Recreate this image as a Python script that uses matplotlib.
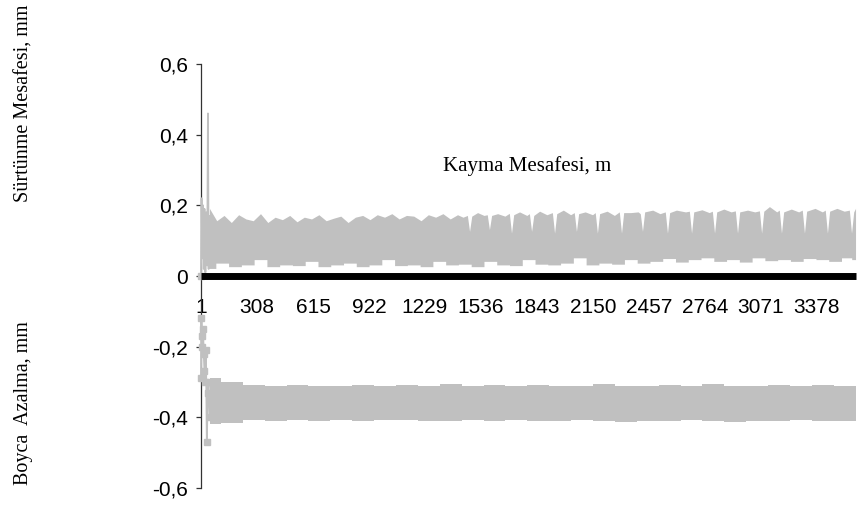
import numpy as np
import matplotlib
matplotlib.use('Agg')
import matplotlib.pyplot as plt

########### DATA

# x axis (category index), labels every 307 points
x_ticks = [1, 308, 615, 922, 1229, 1536, 1843, 2150, 2457, 2764, 3071, 3378]
x_last = 3592

y_ticks = [0.6, 0.4, 0.2, 0, -0.2, -0.4, -0.6]
y_tick_labels = ['0,6', '0,4', '0,2', '0', '-0,2', '-0,4', '-0,6']

# Sürtünme Mesafesi - first few points (start-up spike)
top_start_x = [1, 4, 8, 12, 16, 20, 25, 30, 35, 39, 43, 47, 52]
top_start_y = [0.0, 0.22, 0.05, 0.2, 0.02, 0.19, 0.01, 0.18, 0.03, 0.46, 0.02, 0.17, 0.03]

# upper edge of the dense signal, first part
top_upper_x_a = list(range(50, 1411, 40))
top_upper_y_a = [0.19, 0.155, 0.17, 0.15, 0.172, 0.16, 0.155, 0.175, 0.15, 0.165,
                 0.158, 0.17, 0.152, 0.165, 0.16, 0.172, 0.155, 0.162, 0.168, 0.15,
                 0.165, 0.17, 0.158, 0.172, 0.165, 0.175, 0.16, 0.17, 0.168, 0.155,
                 0.172, 0.165, 0.175, 0.16, 0.172]

# upper edge, second part (cycles with short dips)
top_upper_x_b = [1440, 1464, 1476, 1488, 1520, 1555, 1573, 1585, 1597, 1630, 1670, 1694, 1706, 1718,
                 1750, 1790, 1804, 1816, 1828, 1860, 1900, 1930, 1942, 1954, 1990, 2030, 2050, 2062,
                 2074, 2110, 2150, 2165, 2177, 2189, 2230, 2270, 2297, 2309, 2321, 2360, 2400, 2412,
                 2424, 2436, 2480, 2520, 2549, 2561, 2573, 2610, 2660, 2681, 2693, 2705, 2750, 2790,
                 2807, 2819, 2831, 2870, 2910, 2933, 2945, 2957, 3000, 3040, 3065, 3077, 3089, 3120,
                 3160, 3174, 3186, 3198, 3240, 3280, 3300, 3312, 3324, 3370, 3410, 3426, 3438, 3450,
                 3490, 3530, 3558, 3570, 3582, 3592]
top_upper_y_b = [0.165, 0.17, 0.125, 0.168, 0.178, 0.17, 0.172, 0.13, 0.17, 0.175, 0.168, 0.176, 0.12, 0.172,
                 0.18, 0.17, 0.175, 0.125, 0.17, 0.182, 0.172, 0.178, 0.12, 0.175, 0.185, 0.172, 0.178, 0.125,
                 0.175, 0.18, 0.172, 0.178, 0.12, 0.175, 0.182, 0.17, 0.18, 0.12, 0.178, 0.178, 0.18, 0.175,
                 0.125, 0.18, 0.185, 0.175, 0.18, 0.12, 0.178, 0.185, 0.18, 0.182, 0.12, 0.18, 0.186, 0.178,
                 0.182, 0.12, 0.18, 0.188, 0.18, 0.183, 0.12, 0.18, 0.185, 0.18, 0.183, 0.12, 0.182, 0.195,
                 0.18, 0.185, 0.12, 0.18, 0.188, 0.18, 0.185, 0.12, 0.182, 0.19, 0.18, 0.185, 0.12, 0.182,
                 0.19, 0.182, 0.185, 0.12, 0.18, 0.19]

# lower edge of the dense signal
top_lower_x = list(range(50, 3600, 70)) + [3592]
top_lower_y = [0.02, 0.035, 0.025, 0.03, 0.045, 0.025, 0.03, 0.028, 0.04, 0.025,
               0.03, 0.035, 0.025, 0.03, 0.045, 0.028, 0.03, 0.025, 0.04, 0.03,
               0.032, 0.025, 0.04, 0.03, 0.028, 0.045, 0.032, 0.03, 0.035, 0.05,
               0.03, 0.035, 0.032, 0.045, 0.035,
               0.04, 0.048, 0.038, 0.045, 0.05, 0.04, 0.045, 0.038, 0.05, 0.042,
               0.045, 0.04, 0.048, 0.045, 0.04, 0.05, 0.045]

# Boyca Azalma - first few points
bot_start_x = [1, 3, 6, 9, 12, 16, 20, 24, 28, 33, 38, 43, 48]
bot_start_y = [-0.29, -0.12, -0.17, -0.2, -0.15, -0.22, -0.27, -0.3, -0.21, -0.47, -0.33, -0.3, -0.4]

# Boyca Azalma - band edges
bot_x = list(range(50, 3600, 120)) + [3592]
bot_upper_y = [-0.29, -0.3, -0.308, -0.31, -0.308, -0.31, -0.312, -0.308, -0.31, -0.308,
               -0.31, -0.307, -0.31, -0.308, -0.31, -0.308, -0.31, -0.31, -0.307, -0.31,
               -0.31, -0.308, -0.31, -0.307, -0.31, -0.31, -0.308, -0.31, -0.308, -0.31, -0.31]
bot_lower_y = [-0.42, -0.415, -0.408, -0.41, -0.408, -0.41, -0.408, -0.41, -0.408, -0.408,
               -0.41, -0.41, -0.408, -0.41, -0.408, -0.41, -0.41, -0.408, -0.41, -0.412,
               -0.41, -0.41, -0.408, -0.41, -0.412, -0.41, -0.41, -0.408, -0.41, -0.41, -0.41]

# Kayma Mesafesi (drawn along zero)
slide_x = [1, x_last]
slide_y = [0, 0]

GRAY = '#c0c0c0'


def step_edge(x, y):
    '''Turn an edge into mid-step coordinates so it looks like vertical spikes.'''
    x = np.asarray(x, float)
    y = np.asarray(y, float)
    mids = (x[:-1] + x[1:]) / 2
    xs = np.r_[x[0], np.repeat(mids, 2), x[-1]]
    ys = np.repeat(y, 2)
    return xs, ys


def main():
    fig = plt.figure(figsize=(8.58, 5.32), dpi=100)
    ax = fig.add_axes([195 / 858, 44 / 532, 663 / 858, 424 / 532])

    # top series: dense signal as a band between its edges
    up_x = top_upper_x_a + top_upper_x_b
    up_y = top_upper_y_a + top_upper_y_b
    lo_x, lo_y = step_edge(top_lower_x, top_lower_y)
    poly_x = np.r_[up_x, lo_x[::-1]]
    poly_y = np.r_[up_y, lo_y[::-1]]
    ax.fill(poly_x, poly_y, color=GRAY, lw=0, zorder=2)
    ax.plot(top_start_x, top_start_y, color=GRAY, lw=1.3, marker='s', ms=5,
            markevery=[0], zorder=3)

    # bottom series
    ax.fill_between(bot_x, bot_lower_y, bot_upper_y, step='mid', color=GRAY, lw=0, zorder=2)
    ax.plot(bot_start_x, bot_start_y, color=GRAY, lw=1.3, marker='s', ms=5, zorder=3)

    # black zero series
    ax.plot(slide_x, slide_y, color='black', lw=5, solid_capstyle='butt', zorder=4)

    ax.set_xlim(1 - 6 * 307 / 56, 1 + 657 * 307 / 56)
    ax.set_ylim(-0.6, 0.6)

    for s in ['top', 'right', 'bottom']:
        ax.spines[s].set_visible(False)
    ax.spines['left'].set_position(('data', 1))
    ax.spines['left'].set_color('#333333')
    ax.spines['left'].set_linewidth(0.9)
    ax.spines['bottom'].set_position(('data', 0))

    ax.set_yticks(y_ticks)
    ax.set_yticklabels(y_tick_labels, family='Liberation Sans', size=15)
    ax.tick_params(axis='y', direction='out', length=3.5, width=0.9, color='#333333', pad=6)

    ax.set_xticks(x_ticks)
    ax.set_xticklabels([str(t) for t in x_ticks], family='Liberation Sans', size=15)
    ax.tick_params(axis='x', length=0, pad=16)

    fig.text(527 / 858, 1 - 166 / 532, 'Kayma Mesafesi, m', ha='center', va='center',
             family='Liberation Serif', size=15)
    fig.text(24 / 858, 1 - 103 / 532, 'Sürtünme Mesafesi, mm', rotation=90, ha='center',
             va='center', family='Liberation Serif', size=14.5)
    fig.text(24 / 858, 1 - 403 / 532, 'Boyca  Azalma, mm', rotation=90, ha='center',
             va='center', family='Liberation Serif', size=14.5)

    fig.savefig('out.png', dpi=100)


if __name__ == '__main__':
    main()
